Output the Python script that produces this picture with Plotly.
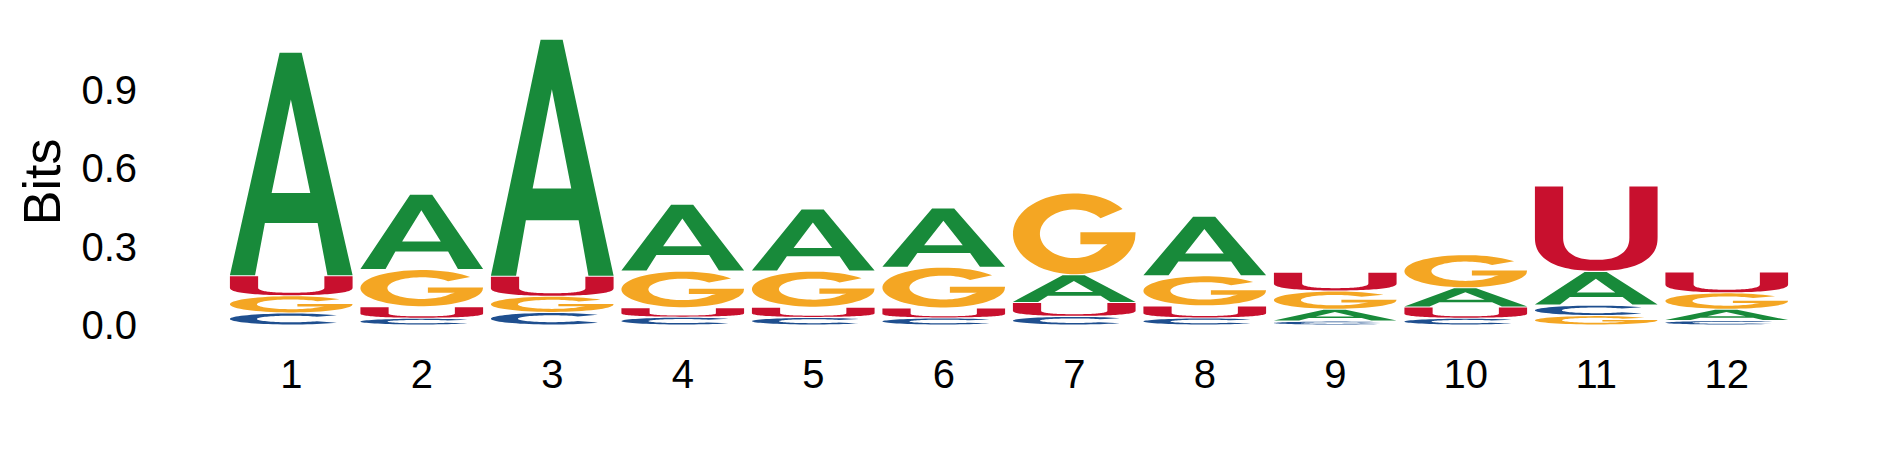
import numpy as np
import plotly.graph_objects as go

# ---- data (information content, bits) ----
positions = list(range(1, 13))
tick_labels = [str(p) for p in positions]
bits_A = [0.854, 0.288, 0.906, 0.256, 0.237, 0.226, 0.106, 0.228, 0.045, 0.073, 0.129, 0.043]
bits_C = [0.046, 0.026, 0.048, 0.030, 0.029, 0.027, 0.033, 0.027, 0.015, 0.026, 0.040, 0.017]
bits_G = [0.066, 0.142, 0.062, 0.140, 0.138, 0.156, 0.313, 0.115, 0.070, 0.127, 0.036, 0.063]
bits_U = [0.076, 0.044, 0.076, 0.036, 0.039, 0.038, 0.053, 0.046, 0.072, 0.043, 0.326, 0.080]
y_tick_vals = [0.0, 0.3, 0.6, 0.9]
y_tick_text = ["0.0", "0.3", "0.6", "0.9"]

COLORS = {"A": "#188a3a", "C": "#1f4f8f", "G": "#f4a623", "U": "#c8102e"}
FONT = "Arial, Liberation Sans, Helvetica, sans-serif"
LETTER_W = 0.94
VPAD = 0.002

# the page body has an 8px default margin; size the figure so it fits exactly
BODY = 8
W, H = 1889 - 2 * BODY, 472 - 2 * BODY
PLOT_L, PLOT_T, PLOT_W, PLOT_H = 226 - BODY, 11 - BODY, 1566, 314.4


def arc(cx, cy, rx, ry, a0, a1, n=60, p=2.0):
    t = np.radians(np.linspace(a0, a1, n))
    c, s = np.cos(t), np.sin(t)
    e = 2.0 / p
    x = cx + rx * np.sign(c) * np.abs(c) ** e
    y = cy + ry * np.sign(s) * np.abs(s) ** e
    return list(zip(x, y))


def glyph(letter):
    """Letter outline in a unit box (u, v in [0, 1])."""
    if letter == "A":
        outer = [(0, 0), (0.405, 1), (0.585, 1), (1, 0), (0.795, 0),
                 (0.715, 0.235), (0.285, 0.235), (0.205, 0)]
        hole = [(0.497, 0.79), (0.34, 0.37), (0.655, 0.37)]
        return [outer, hole]
    if letter == "C":
        outer = arc(0.5, 0.5, 0.5, 0.5, 42, 318)
        inner = arc(0.5, 0.5, 0.28, 0.30, 318, 42)
        return [outer + inner]
    if letter == "G":
        outer = arc(0.5, 0.5, 0.5, 0.5, 38, 352)
        bar = [(1.0, 0.52), (0.55, 0.52), (0.55, 0.37), (0.77, 0.37)]
        inner = arc(0.5, 0.5, 0.28, 0.30, 328, 40)
        return [outer + bar + inner]
    # U
    cy = 0.40
    pts = ([(0, 1)] + arc(0.5, cy, 0.5, cy, 180, 360, p=2.4) + [(1, 1), (0.77, 1)]
           + arc(0.5, cy, 0.27, cy - 0.13, 360, 180, p=2.4) + [(0.23, 1)])
    return [pts]


def letter_path(letter, xc, y0, h):
    hh = max(h - 2 * VPAD, 1e-4)
    parts = []
    for sub in glyph(letter):
        pts = [(xc - LETTER_W / 2 + u * LETTER_W, y0 + VPAD + v * hh) for u, v in sub]
        parts.append("M " + " L ".join(f"{x:.4f},{y:.5f}" for x, y in pts) + " Z")
    return " ".join(parts)


table = {"A": bits_A, "C": bits_C, "G": bits_G, "U": bits_U}
shapes = []
for i, pos in enumerate(positions):
    stack = sorted(((table[l][i], l) for l in table), key=lambda t: t[0])
    base = 0.0
    for h, l in stack:
        shapes.append(dict(type="path", xref="x", yref="y",
                           path=letter_path(l, pos, base, h),
                           fillcolor=COLORS[l], fillrule="evenodd",
                           line=dict(width=0), layer="above"))
        base += h

fig = go.Figure()
fig.add_trace(go.Scatter(x=positions, y=[0] * len(positions), mode="none",
                         hoverinfo="skip", showlegend=False))
fig.update_layout(
    width=W, height=H, autosize=False,
    margin=dict(l=PLOT_L, r=W - PLOT_L - PLOT_W, t=PLOT_T,
                b=H - PLOT_T - PLOT_H, pad=0),
    paper_bgcolor="white", plot_bgcolor="white",
    shapes=shapes,
    font=dict(family=FONT, color="black"),
    xaxis=dict(range=[0.5, 12.5], tickvals=positions, ticktext=tick_labels,
               showgrid=False, zeroline=False, showline=False, ticks="",
               tickfont=dict(size=40, family=FONT), ticklabelstandoff=22),
    yaxis=dict(range=[0, 1.2], tickvals=y_tick_vals, ticktext=y_tick_text,
               showgrid=False, zeroline=False, showline=False, ticks="",
               tickfont=dict(size=40, family=FONT), ticklabelstandoff=88),
    annotations=[dict(text="Bits", textangle=-90, xref="paper", yref="paper",
                      x=(42 - 226) / PLOT_W, y=(325 - 182) / PLOT_H,
                      xanchor="center", yanchor="middle", showarrow=False,
                      font=dict(size=52, family=FONT, color="black"))],
)
fig.write_html("out.html")
